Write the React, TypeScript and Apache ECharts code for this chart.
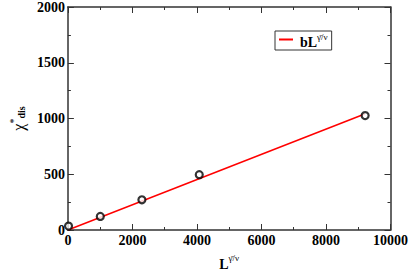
import React, { useEffect, useRef } from "react";
import * as echarts from "echarts";

const pointsX = [20, 1004, 2294, 4072, 9214];
const pointsY = [35, 122, 271, 496, 1026];
const fitX = [0, 9200];
const fitY = [0, 1040];
const xTicks = [0, 2000, 4000, 6000, 8000, 10000];
const yTicks = [0, 500, 1000, 1500, 2000];

const FONT = "Liberation Serif";
const AXIS_COLOR = "#333";

export default function App() {
  const ref = useRef<HTMLDivElement>(null);
  useEffect(() => {
    document.body.style.margin = "0";
    if (!ref.current) return;
    const chart = echarts.init(ref.current, undefined, { renderer: "svg" });
    const axisCommon = {
      axisLine: { show: true, onZero: false, lineStyle: { color: AXIS_COLOR, width: 1.5 } },
      axisTick: { show: true, inside: true, length: 6, lineStyle: { color: AXIS_COLOR, width: 1 } },
      minorTick: { show: true, splitNumber: 2, length: 3, lineStyle: { color: AXIS_COLOR, width: 1 } },
      splitLine: { show: false },
    };
    chart.setOption({
      animation: false,
      backgroundColor: "#fff",
      grid: { left: 57, right: 18, top: 6, bottom: 36, containLabel: false },
      legend: {
        left: 275,
        top: 31,
        orient: "vertical",
        borderColor: AXIS_COLOR,
        borderWidth: 1,
        padding: [1, 4, 1, 4],
        itemWidth: 14,
        itemHeight: 2,
        itemGap: 2,
        data: [{ name: "fit", icon: "rect" }],
        formatter: () => "{b|bL}{s|γ̄/ν}",
        textStyle: {
          rich: {
            b: { fontFamily: FONT, fontWeight: "bold", fontSize: 14, color: "#000", padding: [5, 0, 0, 2] },
            s: { fontFamily: FONT, fontSize: 9, color: "#000", padding: [0, 0, 6, 0] },
          },
        },
      },
      xAxis: [
        {
          type: "value",
          min: 0,
          max: 10000,
          interval: 2000,
          position: "bottom",
          ...axisCommon,
          axisLabel: {
            fontFamily: FONT,
            fontWeight: "bold",
            fontSize: 14,
            color: "#000",
            margin: 3,
            formatter: (v: number) => (xTicks.includes(v) ? String(v) : ""),
          },
          name: "{L|L}{s|γ̄/ν}",
          nameLocation: "middle",
          nameGap: 22,
          nameTextStyle: {
            rich: {
              L: { fontFamily: FONT, fontWeight: "bold", fontSize: 14, color: "#000", padding: [5, 0, 0, 0] },
              s: { fontFamily: FONT, fontSize: 9, color: "#000", padding: [0, 0, 7, 0] },
            },
          },
        },
        {
          type: "value",
          min: 0,
          max: 10000,
          interval: 2000,
          position: "top",
          ...axisCommon,
          axisLabel: { show: false },
        },
      ],
      yAxis: [
        {
          type: "value",
          min: 0,
          max: 2000,
          interval: 500,
          position: "left",
          ...axisCommon,
          axisLabel: {
            fontFamily: FONT,
            fontWeight: "bold",
            fontSize: 14,
            color: "#000",
            margin: 3,
            formatter: (v: number) => (yTicks.includes(v) ? String(v) : ""),
          },
          name: "{c|χ}{s|*}{d|dis}",
          nameLocation: "middle",
          nameGap: 38,
          nameRotate: 90,
          nameTextStyle: {
            rich: {
              c: { fontFamily: FONT, fontSize: 16, color: "#000" },
              s: { fontFamily: FONT, fontSize: 10, color: "#000", padding: [0, 0, 10, 0] },
              d: { fontFamily: FONT, fontWeight: "bold", fontSize: 10, color: "#000", padding: [6, 0, 0, 0] },
            },
          },
        },
        {
          type: "value",
          min: 0,
          max: 2000,
          interval: 500,
          position: "right",
          ...axisCommon,
          axisLabel: { show: false },
        },
      ],
      series: [
        {
          name: "fit",
          type: "line",
          symbol: "none",
          data: fitX.map((x, i) => [x, fitY[i]]),
          lineStyle: { color: "#ff0000", width: 1.5 },
          itemStyle: { color: "#ff0000" },
          z: 2,
        },
        {
          name: "data",
          type: "scatter",
          symbol: "circle",
          symbolSize: 7,
          data: pointsX.map((x, i) => [x, pointsY[i]]),
          itemStyle: { color: "#fff", borderColor: "#000", borderWidth: 2.2 },
          z: 3,
        },
      ],
    });
    return () => chart.dispose();
  }, []);
  return <div ref={ref} style={{ width: 411, height: 276 }} />;
}
